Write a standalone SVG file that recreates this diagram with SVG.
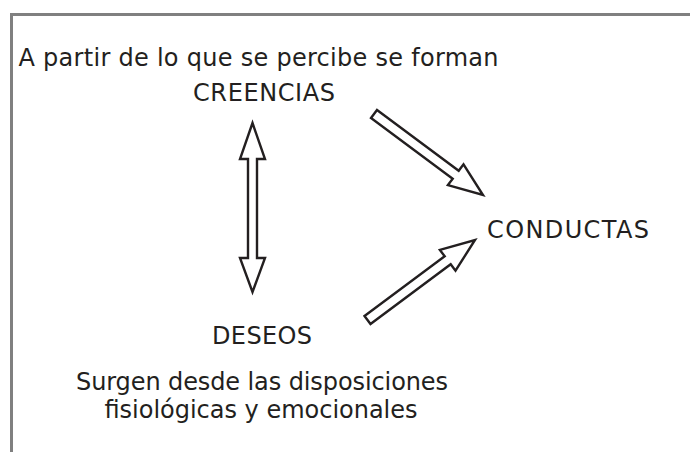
<svg xmlns="http://www.w3.org/2000/svg" width="690" height="452" viewBox="0 0 690 452">
  <style>
    .frame { fill: none; stroke: #808080; stroke-width: 3; }
    .arrow { fill: #ffffff; stroke: #231f20; stroke-width: 2.4; stroke-linejoin: miter; }
    .lbl { font-family: "DejaVu Sans", "Liberation Sans", sans-serif; font-size: 24px; fill: #231f20; text-anchor: middle; }
  </style>
  <rect width="690" height="452" fill="#ffffff"/>
  <path class="frame" d="M11.5,452 V14.5 H690"/>
  <g id="connectors">
    <polygon id="creencias-deseos" class="arrow" points="252.5,123 265,159 257,159 257,258 265,258 252.5,292 240,258 248,258 248,159 240,159"/>
    <polygon id="creencias-conductas" class="arrow" points="377,110 458.7,170.7 463.5,164.3 483,195 447.9,185.1 452.7,178.7 371,118"/>
    <polygon id="deseos-conductas" class="arrow" points="364.5,316 444.7,256.3 439.9,249.9 475,240 455.5,270.7 450.7,264.3 370.5,324"/>
  </g>
  <g id="creencias">
    <text class="lbl" x="258.5" y="66" textLength="480">A partir de lo que se percibe se forman</text>
    <text class="lbl" x="264" y="101" textLength="142">CREENCIAS</text>
  </g>
  <g id="conductas">
    <text class="lbl" x="568" y="238" textLength="162">CONDUCTAS</text>
  </g>
  <g id="deseos">
    <text class="lbl" x="262" y="344" textLength="100">DESEOS</text>
    <text class="lbl" x="262" y="390" textLength="372">Surgen desde las disposiciones</text>
    <text class="lbl" x="261" y="418" textLength="313">fisiológicas y emocionales</text>
  </g>
</svg>
